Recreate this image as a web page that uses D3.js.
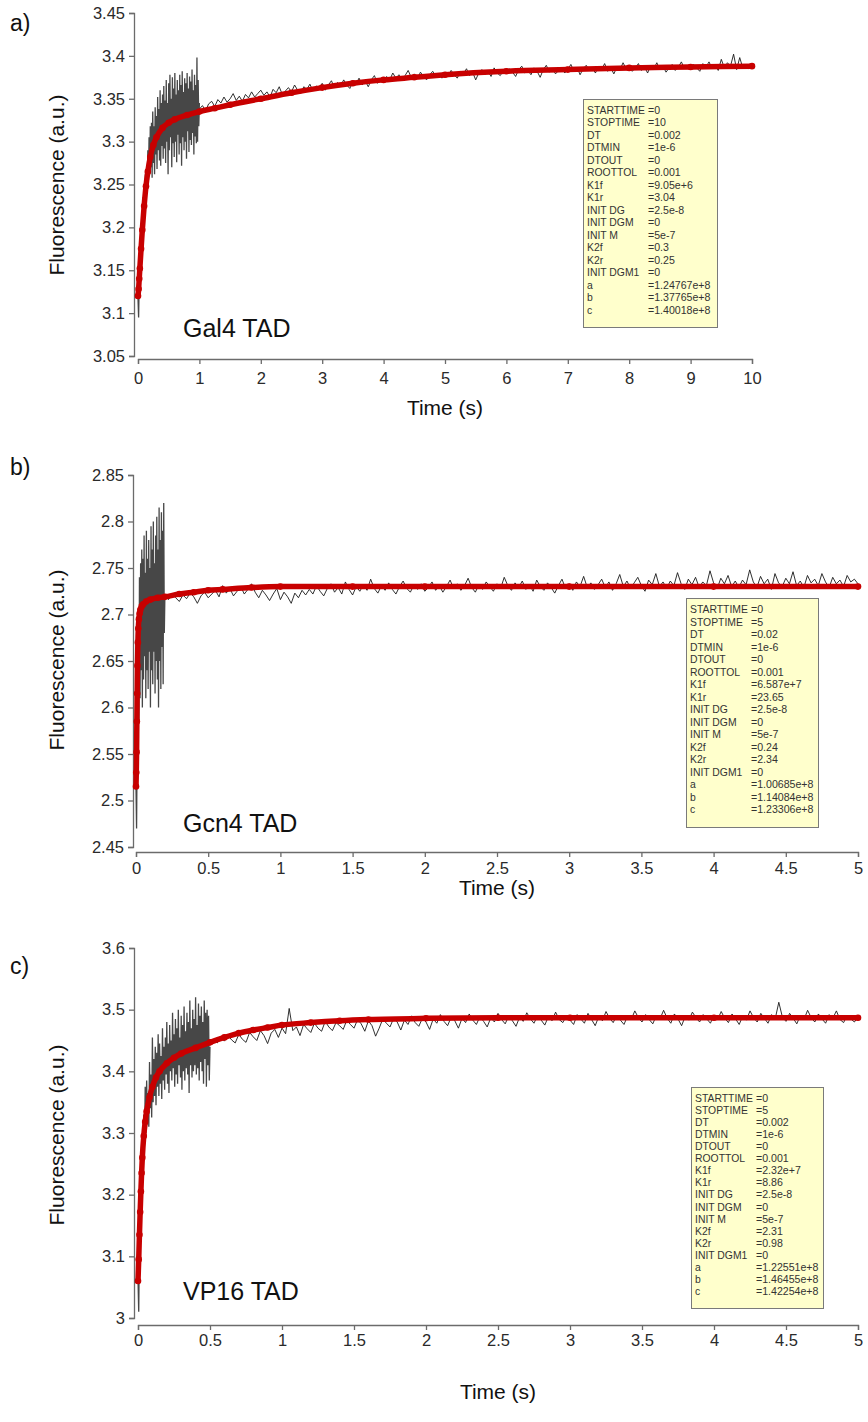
<!DOCTYPE html>
<html><head><meta charset="utf-8">
<script src="https://cdn.jsdelivr.net/npm/d3@7"></script>
<style>body{margin:0;background:#fff}svg{display:block}</style>
</head><body>
<svg id="chart" width="868" height="1422"></svg>
<script>
// ---------------- DATA ----------------
// Panel a: Gal4 TAD
const gal4FitT = [0,0.01,0.02,0.03,0.05,0.07,0.1,0.13,0.16,0.2,0.25,0.3,0.4,0.5,0.6,0.8,1.0,1.25,1.5,2,2.5,3,3.5,4,4.5,5,6,7,8,9,10];
const gal4FitY = [3.120,3.128,3.140,3.152,3.175,3.197,3.225,3.248,3.265,3.282,3.296,3.305,3.316,3.322,3.326,3.331,3.335,3.339,3.343,3.350,3.357,3.363,3.368,3.372,3.375,3.378,3.382,3.384,3.386,3.387,3.388];
const gal4DenseStart = 0, gal4DenseStep = 0.01;
const gal4Dense = [3.118,3.095,3.140,3.132,3.170,3.160,3.205,3.185,3.235,3.212,3.245,3.228,3.262,3.240,3.268,3.252,3.290,3.255,3.305,3.262,
3.318,3.270,3.322,3.258,3.335,3.275,3.318,3.262,3.340,3.285,3.330,3.268,3.352,3.290,3.338,3.278,3.360,3.272,3.345,3.295,
3.355,3.280,3.365,3.292,3.348,3.275,3.372,3.300,3.345,3.262,3.368,3.290,3.378,3.305,3.350,3.270,3.375,3.298,3.362,3.282,
3.380,3.300,3.355,3.276,3.372,3.308,3.360,3.285,3.378,3.298,3.366,3.272,3.382,3.305,3.358,3.290,3.374,3.300,3.368,3.280,
3.380,3.312,3.362,3.288,3.376,3.302,3.370,3.296,3.384,3.310,3.360,3.285,3.378,3.306,3.366,3.298,3.398,3.300,3.372,3.318,3.345];
const gal4QuietStart = 1.0, gal4QuietStep = 0.05;
const gal4Quiet = [3.338,3.342,3.336,3.344,3.347,3.341,3.349,3.345,3.352,3.346,3.350,3.356,3.348,3.353,3.347,3.355,3.351,3.358,3.352,3.356,
3.360,3.354,3.358,3.352,3.361,3.357,3.364,3.355,3.359,3.363,3.358,3.366,3.360,3.356,3.364,3.361,3.367,3.359,3.365,3.362,
3.368,3.360,3.366,3.371,3.363,3.369,3.365,3.372,3.366,3.362,3.370,3.367,3.374,3.366,3.371,3.364,3.372,3.377,3.368,3.373,
3.369,3.376,3.372,3.380,3.374,3.378,3.371,3.377,3.383,3.375,3.379,3.373,3.381,3.376,3.372,3.378,3.382,3.376,3.380,3.374,
3.380,3.376,3.383,3.378,3.374,3.382,3.379,3.385,3.377,3.381,3.372,3.380,3.384,3.378,3.382,3.376,3.386,3.380,3.377,3.383,
3.379,3.385,3.381,3.376,3.384,3.388,3.380,3.383,3.378,3.386,3.382,3.375,3.384,3.389,3.381,3.385,3.379,3.383,3.387,3.380,
3.384,3.390,3.382,3.387,3.378,3.385,3.389,3.383,3.386,3.380,3.388,3.384,3.391,3.382,3.386,3.379,3.387,3.384,3.392,3.385,
3.388,3.382,3.386,3.391,3.383,3.387,3.380,3.389,3.385,3.392,3.384,3.388,3.381,3.386,3.390,3.383,3.387,3.393,3.385,3.389,
3.384,3.390,3.386,3.382,3.391,3.387,3.393,3.385,3.389,3.383,3.396,3.386,3.392,3.388,3.402,3.384,3.398,3.386,3.390,3.385,3.388];
const gal4XTicks = [0,1,2,3,4,5,6,7,8,9,10];
const gal4YTicks = [3.05,3.1,3.15,3.2,3.25,3.3,3.35,3.4,3.45];
const gal4Params = [["STARTTIME","0"],["STOPTIME","10"],["DT","0.002"],["DTMIN","1e-6"],["DTOUT","0"],["ROOTTOL","0.001"],["K1f","9.05e+6"],["K1r","3.04"],["INIT DG","2.5e-8"],["INIT DGM","0"],["INIT M","5e-7"],["K2f","0.3"],["K2r","0.25"],["INIT DGM1","0"],["a","1.24767e+8"],["b","1.37765e+8"],["c","1.40018e+8"]];

// Panel b: Gcn4 TAD
const gcn4FitT = [0,0.002,0.004,0.006,0.008,0.010,0.013,0.016,0.02,0.025,0.03,0.04,0.05,0.07,0.1,0.15,0.2,0.3,0.4,0.5,0.6,0.8,1.0,1.5,2,3,4,5];
const gcn4FitY = [2.515,2.530,2.552,2.585,2.615,2.645,2.670,2.685,2.695,2.701,2.705,2.709,2.711,2.714,2.716,2.718,2.719,2.722,2.724,2.726,2.727,2.729,2.730,2.730,2.730,2.730,2.730,2.730];
const gcn4DenseStart = 0, gcn4DenseStep = 0.004;
const gcn4Dense = [2.515,2.470,2.560,2.600,2.680,2.585,2.740,2.610,2.755,2.640,2.770,2.600,2.760,2.630,2.785,2.655,2.745,2.610,2.790,2.640,
2.760,2.620,2.780,2.660,2.750,2.600,2.795,2.640,2.770,2.625,2.800,2.660,2.755,2.615,2.785,2.650,2.805,2.630,2.770,2.600,
2.815,2.650,2.780,2.620,2.810,2.665,2.790,2.625,2.820,2.680,2.720];
const gcn4QuietStart = 0.2, gcn4QuietStep = 0.025;
const gcn4Quiet = [2.720,2.716,2.722,2.718,2.714,2.721,2.717,2.723,2.719,2.712,2.720,2.724,2.718,2.722,2.726,2.719,2.731,2.723,2.728,2.720,
2.725,2.730,2.722,2.727,2.733,2.724,2.718,2.726,2.721,2.715,2.722,2.728,2.716,2.724,2.719,2.712,2.723,2.718,2.726,2.721,
2.727,2.722,2.731,2.725,2.720,2.728,2.733,2.724,2.729,2.722,2.735,2.727,2.721,2.730,2.725,2.732,2.726,2.738,2.728,2.723,
2.731,2.726,2.734,2.727,2.722,2.730,2.736,2.728,2.724,2.732,2.727,2.733,2.725,2.729,2.735,2.726,2.731,2.724,2.730,2.737,
2.728,2.733,2.726,2.731,2.739,2.729,2.724,2.732,2.727,2.735,2.730,2.725,2.733,2.728,2.740,2.731,2.726,2.734,2.729,2.736,
2.727,2.732,2.725,2.737,2.730,2.726,2.734,2.729,2.723,2.731,2.738,2.728,2.733,2.726,2.735,2.730,2.741,2.729,2.734,2.727,
2.732,2.738,2.729,2.735,2.726,2.733,2.743,2.730,2.736,2.728,2.734,2.740,2.731,2.725,2.737,2.732,2.744,2.730,2.735,2.728,
2.736,2.731,2.745,2.733,2.727,2.738,2.732,2.740,2.729,2.735,2.731,2.747,2.734,2.728,2.739,2.733,2.742,2.730,2.736,2.729,
2.737,2.732,2.748,2.735,2.729,2.741,2.733,2.738,2.727,2.744,2.734,2.730,2.739,2.733,2.746,2.731,2.736,2.729,2.742,2.734,
2.738,2.731,2.744,2.735,2.729,2.740,2.733,2.737,2.730,2.742,2.735,2.738,2.733];
const gcn4XTicks = [0,0.5,1,1.5,2,2.5,3,3.5,4,4.5,5];
const gcn4YTicks = [2.45,2.5,2.55,2.6,2.65,2.7,2.75,2.8,2.85];
const gcn4Params = [["STARTTIME","0"],["STOPTIME","5"],["DT","0.02"],["DTMIN","1e-6"],["DTOUT","0"],["ROOTTOL","0.001"],["K1f","6.587e+7"],["K1r","23.65"],["INIT DG","2.5e-8"],["INIT DGM","0"],["INIT M","5e-7"],["K2f","0.24"],["K2r","2.34"],["INIT DGM1","0"],["a","1.00685e+8"],["b","1.14084e+8"],["c","1.23306e+8"]];

// Panel c: VP16 TAD
const vp16FitT = [0,0.005,0.01,0.015,0.02,0.025,0.03,0.04,0.05,0.06,0.08,0.1,0.125,0.15,0.2,0.25,0.3,0.4,0.5,0.6,0.7,0.8,0.9,1.0,1.2,1.4,1.6,2.0,2.5,3,4,5];
const vp16FitY = [3.060,3.095,3.135,3.172,3.205,3.235,3.260,3.295,3.318,3.335,3.358,3.375,3.390,3.400,3.413,3.422,3.429,3.438,3.447,3.455,3.462,3.467,3.471,3.475,3.479,3.482,3.484,3.486,3.487,3.487,3.487,3.487];
const vp16DenseStart = 0, vp16DenseStep = 0.005;
const vp16Dense = [3.065,3.010,3.130,3.155,3.240,3.205,3.275,3.250,3.330,3.285,3.375,3.300,3.385,3.320,3.365,3.310,3.415,3.340,3.395,3.325,
3.455,3.350,3.420,3.360,3.440,3.345,3.430,3.375,3.460,3.360,3.445,3.380,3.425,3.355,3.470,3.385,3.440,3.370,3.455,3.395,
3.480,3.380,3.445,3.365,3.475,3.400,3.450,3.385,3.495,3.405,3.460,3.375,3.485,3.395,3.470,3.380,3.500,3.410,3.455,3.390,
3.490,3.370,3.475,3.400,3.505,3.385,3.465,3.405,3.495,3.395,3.480,3.365,3.515,3.410,3.470,3.390,3.500,3.400,3.485,3.410,
3.520,3.395,3.475,3.405,3.510,3.385,3.490,3.415,3.505,3.400,3.480,3.380,3.515,3.420,3.495,3.375,3.500,3.410,3.490,3.385,3.440];
const vp16QuietStart = 0.5, vp16QuietStep = 0.025;
const vp16Quiet = [3.442,3.450,3.446,3.455,3.449,3.458,3.451,3.446,3.460,3.452,3.447,3.463,3.456,3.450,3.466,3.458,3.445,3.462,3.468,3.455,
3.470,3.461,3.502,3.466,3.472,3.458,3.476,3.469,3.463,3.478,3.470,3.465,3.481,3.472,3.466,3.479,3.474,3.468,3.483,3.476,
3.470,3.484,3.477,3.465,3.482,3.474,3.457,3.470,3.485,3.478,3.472,3.486,3.480,3.467,3.483,3.476,3.490,3.479,3.473,3.486,
3.480,3.468,3.485,3.478,3.492,3.481,3.474,3.488,3.482,3.470,3.486,3.479,3.493,3.483,3.476,3.489,3.481,3.472,3.487,3.480,
3.494,3.484,3.477,3.490,3.482,3.473,3.488,3.481,3.495,3.485,3.478,3.491,3.483,3.475,3.489,3.482,3.496,3.484,3.479,3.490,
3.483,3.476,3.492,3.485,3.478,3.494,3.484,3.474,3.489,3.482,3.497,3.486,3.479,3.491,3.483,3.476,3.490,3.484,3.498,3.487,
3.480,3.492,3.484,3.477,3.491,3.485,3.499,3.486,3.478,3.493,3.485,3.474,3.489,3.483,3.496,3.487,3.480,3.492,3.485,3.478,
3.491,3.484,3.497,3.486,3.479,3.493,3.485,3.476,3.490,3.483,3.498,3.487,3.480,3.494,3.486,3.478,3.492,3.485,3.512,3.488,
3.481,3.494,3.486,3.477,3.491,3.484,3.499,3.487,3.480,3.493,3.485,3.478,3.492,3.486,3.498,3.484,3.479,3.491,3.485,3.480,3.488];
const vp16XTicks = [0,0.5,1,1.5,2,2.5,3,3.5,4,4.5,5];
const vp16YTicks = [3,3.1,3.2,3.3,3.4,3.5,3.6];
const vp16Params = [["STARTTIME","0"],["STOPTIME","5"],["DT","0.002"],["DTMIN","1e-6"],["DTOUT","0"],["ROOTTOL","0.001"],["K1f","2.32e+7"],["K1r","8.86"],["INIT DG","2.5e-8"],["INIT DGM","0"],["INIT M","5e-7"],["K2f","2.31"],["K2r","0.98"],["INIT DGM1","0"],["a","1.22551e+8"],["b","1.46455e+8"],["c","1.42254e+8"]];

const panelLetters = ["a)","b)","c)"];
const panelNames = ["Gal4 TAD","Gcn4 TAD","VP16 TAD"];
const xTitle = "Time (s)";
const yTitle = "Fluorescence (a.u.)";

// ---------------- LAYOUT ----------------
const FONT = "'Liberation Sans', Arial, Helvetica, sans-serif";
const svg = d3.select("#chart");

function series(start, step, vals){ return vals.map((v,i)=>({t:start+i*step, y:v})); }

const panels = [
  {letter:panelLetters[0], name:panelNames[0], xDom:[0,10], yDom:[3.05,3.45], xR:[138,752], yR:[356,13], yAxisX:134, xAxisY:359,
   xTicks:gal4XTicks, yTicks:gal4YTicks, fit:gal4FitT.map((t,i)=>({t, y:gal4FitY[i]})),
   dense:series(gal4DenseStart,gal4DenseStep,gal4Dense), quiet:series(gal4QuietStart,gal4QuietStep,gal4Quiet),
   params:gal4Params, box:[583,99,134,228], letterY:31, nameX:183, nameY:337, xPad:8, titleY:415, yTitleY:185},
  {letter:panelLetters[1], name:panelNames[1], xDom:[0,5], yDom:[2.45,2.85], xR:[136,858], yR:[847,475], yAxisX:133, xAxisY:852,
   xTicks:gcn4XTicks, yTicks:gcn4YTicks, fit:gcn4FitT.map((t,i)=>({t, y:gcn4FitY[i]})),
   dense:series(gcn4DenseStart,gcn4DenseStep,gcn4Dense), quiet:series(gcn4QuietStart,gcn4QuietStep,gcn4Quiet),
   params:gcn4Params, box:[686,598,132,229], letterY:475, nameX:183, nameY:832, xPad:5, titleY:895, yTitleY:660},
  {letter:panelLetters[2], name:panelNames[2], xDom:[0,5], yDom:[3.0,3.6], xR:[138,858], yR:[1318,948], yAxisX:134, xAxisY:1325,
   xTicks:vp16XTicks, yTicks:vp16YTicks, fit:vp16FitT.map((t,i)=>({t, y:vp16FitY[i]})),
   dense:series(vp16DenseStart,vp16DenseStep,vp16Dense), quiet:series(vp16QuietStart,vp16QuietStep,vp16Quiet),
   params:vp16Params, box:[691,1087,132,221], letterY:974, nameX:183, nameY:1300, xPad:4, titleY:1399, yTitleY:1135}
];

const fmt = v => String(+v.toFixed(2));

panels.forEach(p => {
  const x = d3.scaleLinear().domain(p.xDom).range(p.xR);
  const y = d3.scaleLinear().domain(p.yDom).range(p.yR);
  const g = svg.append("g");

  // axes
  const yAx = d3.axisLeft(y).tickValues(p.yTicks).tickFormat(fmt).tickSizeOuter(5).tickSizeInner(5).tickPadding(4);
  const ya = g.append("g").attr("transform",`translate(${p.yAxisX},0)`).call(yAx);
  const xAx = d3.axisBottom(x).tickValues(p.xTicks).tickFormat(fmt).tickSizeOuter(5).tickSizeInner(5).tickPadding(p.xPad);
  const xa = g.append("g").attr("transform",`translate(0,${p.xAxisY})`).call(xAx);
  [ya,xa].forEach(a=>{
    a.selectAll("path,line").attr("stroke","#6b6b6b").attr("stroke-width",1.3);
    a.selectAll("text").attr("font-family",FONT).attr("font-size",16.5).attr("fill","#2a2a2a");
  });

  // black data trace
  const line = d3.line().x(d=>x(d.t)).y(d=>y(d.y));
  g.append("path").datum(p.dense).attr("d",line).attr("fill","none")
    .attr("stroke","#333").attr("stroke-width",1.3).attr("stroke-opacity",0.9);
  g.append("path").datum(p.quiet).attr("d",line).attr("fill","none")
    .attr("stroke","#1a1a1a").attr("stroke-width",0.9);

  // red fit
  const fitLine = d3.line().x(d=>x(d.t)).y(d=>y(d.y)).curve(d3.curveMonotoneX);
  g.append("path").datum(p.fit).attr("d",fitLine).attr("fill","none")
    .attr("stroke","#c80000").attr("stroke-width",5.5).attr("stroke-linecap","round");
  g.selectAll("circle.fit").data(p.fit).join("circle").attr("class","fit")
    .attr("cx",d=>x(d.t)).attr("cy",d=>y(d.y)).attr("r",3.3).attr("fill","#c80000");

  // titles
  g.append("text").attr("x",10).attr("y",p.letterY).text(p.letter)
    .attr("font-family",FONT).attr("font-size",23).attr("fill","#111");
  g.append("text").attr("x",p.nameX).attr("y",p.nameY).text(p.name)
    .attr("font-family",FONT).attr("font-size",25).attr("fill","#111");
  g.append("text").attr("x",(p.xR[0]+p.xR[1])/2).attr("y",p.titleY).attr("text-anchor","middle").text(xTitle)
    .attr("font-family",FONT).attr("font-size",21).attr("fill","#111");
  g.append("text").attr("transform",`translate(64,${p.yTitleY}) rotate(-90)`).attr("text-anchor","middle").text(yTitle)
    .attr("font-family",FONT).attr("font-size",21).attr("fill","#111");

  // parameter box
  const [bx,by,bw,bh] = p.box;
  const bg = g.append("g");
  bg.append("rect").attr("x",bx+0.5).attr("y",by+0.5).attr("width",bw).attr("height",bh)
    .attr("fill","#ffffcc").attr("stroke","#7a7a7a").attr("stroke-width",1);
  const rowH = (bh-16)/p.params.length;
  p.params.forEach((r,i)=>{
    const ty = by + 15 + i*rowH;
    bg.append("text").attr("x",bx+4).attr("y",ty).text(r[0])
      .attr("font-family",FONT).attr("font-size",10.4).attr("fill","#333");
    bg.append("text").attr("x",bx+65).attr("y",ty).text("=" + r[1])
      .attr("font-family",FONT).attr("font-size",10.6).attr("fill","#333");
  });
});
</script>
</body></html>
